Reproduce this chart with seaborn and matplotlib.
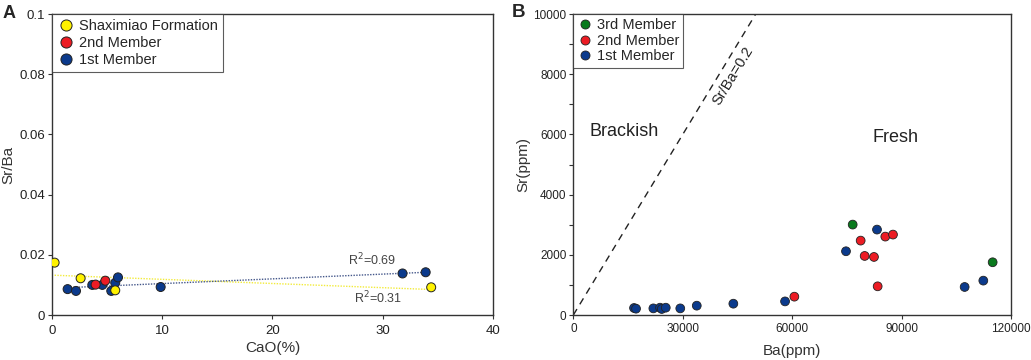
import numpy as np
import pandas as pd
import seaborn as sns
import matplotlib.pyplot as plt
from matplotlib.lines import Line2D

# Panel A: CaO(%) vs Sr/Ba
a_groups = ["1st Member", "2nd Member", "Shaximiao Formation"]
a_cao = {
    "1st Member": [1.42, 2.18, 3.66, 4.57, 5.38, 5.74, 5.99, 9.86, 31.8, 33.9],
    "2nd Member": [3.96, 4.84],
    "Shaximiao Formation": [0.24, 2.6, 5.74, 34.4],
}
a_srba = {
    "1st Member": [0.0086, 0.0080, 0.0100, 0.0100, 0.0080, 0.0107, 0.0125, 0.0093, 0.0138, 0.0142],
    "2nd Member": [0.0101, 0.0114],
    "Shaximiao Formation": [0.0174, 0.0122, 0.0082, 0.0092],
}
a_order = ["Shaximiao Formation", "2nd Member", "1st Member"]

# Panel B: Ba(ppm) vs Sr(ppm)
b_groups = ["1st Member", "2nd Member", "3rd Member"]
b_ba = {
    "1st Member": [16640, 17190, 21940, 23770, 24240, 25340, 29320, 33840, 43870, 58050,
                   74760, 83260, 107290, 112410],
    "2nd Member": [60600, 78780, 79880, 82430, 83440, 85540, 87640],
    "3rd Member": [76590, 114970],
}
b_sr = {
    "1st Member": [233, 210, 220, 243, 200, 243, 220, 310, 376, 452,
                   2118, 2838, 931, 1142],
    "2nd Member": [609, 2472, 1962, 1929, 953, 2605, 2672],
    "3rd Member": [3004, 1752],
}
b_order = ["3rd Member", "2nd Member", "1st Member"]

colors = {
    "Shaximiao Formation": "#FFF200",
    "2nd Member": "#EC1C24",
    "1st Member": "#0B3A8C",
    "3rd Member": "#0A7A1E",
}

df_a = pd.DataFrame({
    "CaO": sum((a_cao[g] for g in a_groups), []),
    "SrBa": sum((a_srba[g] for g in a_groups), []),
    "group": sum(([g] * len(a_cao[g]) for g in a_groups), []),
})
df_b = pd.DataFrame({
    "Ba": sum((b_ba[g] for g in b_groups), []),
    "Sr": sum((b_sr[g] for g in b_groups), []),
    "group": sum(([g] * len(b_ba[g]) for g in b_groups), []),
})

sns.set_style("ticks")
plt.rcParams["font.family"] = ["Liberation Sans", "DejaVu Sans"]
plt.rcParams["axes.edgecolor"] = "#333333"
plt.rcParams["xtick.color"] = "#333333"
plt.rcParams["ytick.color"] = "#333333"
plt.rcParams["xtick.labelcolor"] = "#222222"
plt.rcParams["ytick.labelcolor"] = "#222222"

fig = plt.figure(figsize=(10.31, 3.6), dpi=100)
ax1 = fig.add_axes([0.0504, 0.125, 0.4277, 0.836])
ax2 = fig.add_axes([0.5561, 0.125, 0.4245, 0.836])

# ---- Panel A ----
sns.regplot(data=df_a[df_a.group == "Shaximiao Formation"], x="CaO", y="SrBa", ax=ax1,
            scatter=False, ci=None, truncate=True,
            line_kws=dict(color="#F2EB3A", lw=1.0, ls=(0, (1, 1))))
sns.regplot(data=df_a[df_a.group == "1st Member"], x="CaO", y="SrBa", ax=ax1,
            scatter=False, ci=None, truncate=True,
            line_kws=dict(color="#44578A", lw=1.0, ls=(0, (1, 1))))
sns.scatterplot(data=df_a, x="CaO", y="SrBa", hue="group", palette=colors, ax=ax1,
                s=42, edgecolor="#222222", linewidth=0.7, legend=False, zorder=3)
ax1.set_xlim(0, 40)
ax1.set_ylim(0, 0.1)
ax1.set_xticks([0, 10, 20, 30, 40])
ax1.set_yticks([0, 0.02, 0.04, 0.06, 0.08, 0.1])
ax1.set_yticklabels(["0", "0.02", "0.04", "0.06", "0.08", "0.1"])
ax1.tick_params(labelsize=9.5, length=3, width=0.8, pad=2)
ax1.tick_params(axis="x", pad=4)
ax1.set_xlabel("CaO(%)", fontsize=11, color="#333333", labelpad=3)
ax1.set_ylabel("Sr/Ba", fontsize=11, color="#333333", labelpad=3)
ax1.text(29.0, 0.0183, "R$^2$=0.69", fontsize=9, color="#444444", ha="center", va="center")
ax1.text(29.6, 0.0058, "R$^2$=0.31", fontsize=9, color="#444444", ha="center", va="center")

handles_a = [Line2D([], [], marker="o", ls="", markersize=8, markerfacecolor=colors[g],
                    markeredgecolor="#222222", markeredgewidth=0.7, label=g) for g in a_order]
leg = ax1.legend(handles=handles_a, loc="upper left", borderaxespad=0, fontsize=10.5,
                 frameon=True, fancybox=False, handletextpad=0.3, labelspacing=0.2,
                 borderpad=0.35, handlelength=1.2)
leg.get_frame().set_edgecolor("#333333")
leg.get_frame().set_linewidth(0.8)

# ---- Panel B ----
ratio_x = np.array([0, 50000])
ax2.plot(ratio_x, 0.2 * ratio_x, color="#222222", lw=1.0, ls=(0, (5, 4)))
sns.scatterplot(data=df_b, x="Ba", y="Sr", hue="group", palette=colors, ax=ax2,
                s=40, edgecolor="#222222", linewidth=0.6, legend=False, zorder=3)
ax2.set_xlim(0, 120000)
ax2.set_ylim(0, 10000)
ax2.set_xticks([0, 30000, 60000, 90000, 120000])
ax2.set_yticks([0, 2000, 4000, 6000, 8000, 10000])
ax2.set_yticks(np.arange(1000, 10000, 2000), minor=True)
ax2.tick_params(labelsize=8.5, length=3, width=0.8, pad=2)
ax2.tick_params(axis="x", pad=3)
ax2.tick_params(which="minor", length=3, width=0.8)
ax2.set_xlabel("Ba(ppm)", fontsize=11, color="#333333", labelpad=6)
ax2.set_ylabel("Sr(ppm)", fontsize=11, color="#333333", labelpad=2)
ax2.text(13900, 6100, "Brackish", fontsize=13, color="#222222", ha="center", va="center")
ax2.text(88200, 5890, "Fresh", fontsize=13, color="#222222", ha="center", va="center")

p0 = ax2.transData.transform((0, 0))
p1 = ax2.transData.transform((50000, 10000))
angle = np.degrees(np.arctan2(p1[1] - p0[1], p1[0] - p0[0]))
ax2.text(43800, 7960, "Sr/Ba=0.2", fontsize=10.5, color="#222222", ha="center", va="center",
         rotation=angle, rotation_mode="anchor")

handles_b = [Line2D([], [], marker="o", ls="", markersize=6.5, markerfacecolor=colors[g],
                    markeredgecolor="#222222", markeredgewidth=0.6, label=g) for g in b_order]
leg2 = ax2.legend(handles=handles_b, loc="upper left", borderaxespad=0, fontsize=10.5,
                  frameon=True, fancybox=False, handletextpad=0.3, labelspacing=0.1,
                  borderpad=0.3, handlelength=1.0)
leg2.get_frame().set_edgecolor("#333333")
leg2.get_frame().set_linewidth(0.8)

for ax in (ax1, ax2):
    for sp in ax.spines.values():
        sp.set_visible(True)
        sp.set_linewidth(1.0)

fig.text(0.002, 0.985, "A", fontsize=13, fontweight="bold", va="top", ha="left")
fig.text(0.496, 0.99, "B", fontsize=13.5, fontweight="bold", va="top", ha="left")

fig.savefig("out.png", dpi=100)
